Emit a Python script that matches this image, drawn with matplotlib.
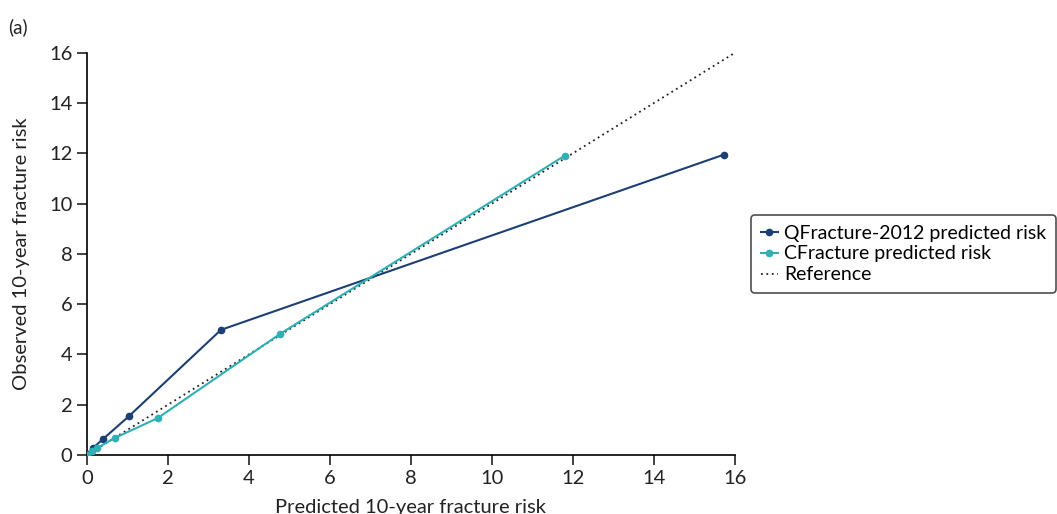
import numpy as np
import matplotlib.pyplot as plt

plt.rcParams['font.family'] = ['Lato', 'DejaVu Sans']

# QFracture-2012 calibration points
q_pred = [0.02, 0.15, 0.40, 1.04, 3.31, 15.73]
q_obs = [0.03, 0.28, 0.64, 1.55, 4.98, 11.95]

# CFracture calibration points
c_pred = [0.0, 0.12, 0.25, 0.69, 1.75, 4.77, 11.80]
c_obs = [0.0, 0.15, 0.28, 0.68, 1.47, 4.82, 11.91]

ref = [0, 16]

navy = "#1c3f74"
teal = "#2fb0b4"
FS = 14.5

fig = plt.figure(figsize=(10.57, 5.14), dpi=100)
ax = fig.add_axes([0.0823, 0.1148, 0.6127, 0.7822])

ax.plot(q_pred, q_obs, color=navy, lw=1.5, marker="o", ms=4.5,
        label="QFracture-2012 predicted risk", zorder=3)
ax.plot(c_pred, c_obs, color=teal, lw=1.5, marker="o", ms=4.5,
        label="CFracture predicted risk", zorder=4)
ax.plot(ref, ref, color="#222222", lw=1.3, ls=(0, (1, 2)),
        label="Reference", zorder=2)

ax.set_xlim(0, 16)
ax.set_ylim(0, 16)
ax.set_xticks(range(0, 17, 2))
ax.set_yticks(range(0, 17, 2))
for s in ["top", "right"]:
    ax.spines[s].set_visible(False)
for s in ["left", "bottom"]:
    ax.spines[s].set_linewidth(1.2)
ax.tick_params(labelsize=FS, length=7, width=1.2, color="#222222", labelcolor="#222222")
ax.set_xlabel("Predicted 10-year fracture risk", fontsize=FS, color="#222222", labelpad=9)
ax.set_ylabel("Observed 10-year fracture risk", fontsize=FS, color="#222222", labelpad=14)

leg = ax.legend(loc="center left", bbox_to_anchor=(1.025, 0.5), fontsize=FS - 0.5,
                frameon=True, fancybox=True, handlelength=0.9, handletextpad=0.3,
                borderpad=0.5, labelspacing=0.2, borderaxespad=0)
leg.get_frame().set_edgecolor("#222222")
leg.get_frame().set_linewidth(1.2)

fig.text(0.008, 0.935, "(a)", fontsize=FS - 1, color="#222222")

fig.savefig("out.png", dpi=100)
